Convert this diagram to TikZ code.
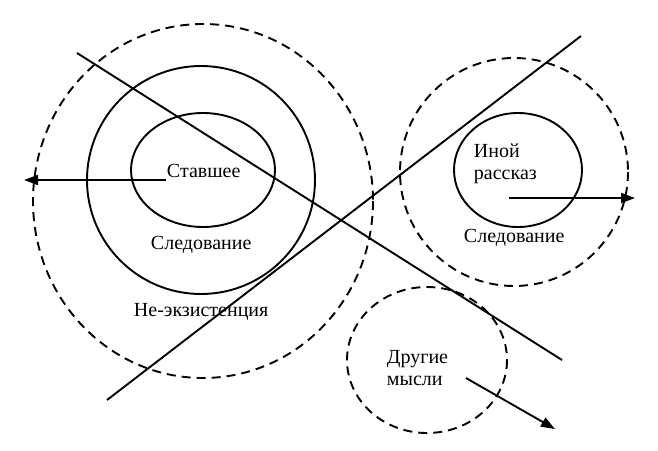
\documentclass[tikz,border=0pt]{standalone}
\usepackage{fontspec}
\setmainfont{Liberation Serif}
\usetikzlibrary{arrows.meta}
\tikzset{
  zone/.style={dash pattern=on 9pt off 6pt},
  flow/.style={-{Triangle[length=14pt,width=10pt]}},
  lbl/.style={font=\fontsize{20}{23}\selectfont, inner sep=0pt, anchor=base west}
}
\begin{document}
\begin{tikzpicture}[x=1pt,y=-1pt,line width=1.9pt]
        \useasboundingbox (0,0) rectangle (658,450);
        % left group
        \draw[zone] (203,201) ellipse (170 and 177);
        \draw (201,180) ellipse (114 and 114);
        \draw (203,170) ellipse (72 and 57);
        \node[lbl] (past) at (166,177) {Ставшее};
        \node[lbl] (follow) at (150,249) {Следование};
        \node[lbl] (nonex) at (133,316) {Не-экзистенция};
        \coordinate (pastout) at (24,180);
        \draw[flow] (past.west |- pastout) -- (pastout);

        % right group
        \draw[zone] (514,172) ellipse (114 and 114);
        \draw (518,170) ellipse (64 and 57);
        \node[lbl] (other) at (473,157) {Иной};
        \node[lbl] (story) at (473,179) {рассказ};
        \node[lbl] (follow2) at (463,242) {Следование};
        \coordinate (storyin) at (509,198);
        \coordinate (storyout) at (635,198);
        \draw[flow] (storyin) -- (storyout);

        % bottom group
        \draw[zone] (427,360) ellipse (80 and 73);
        \node[lbl] (others) at (386,363) {Другие};
        \node[lbl] (thoughts) at (386,385) {мысли};
        \coordinate (thoughtsin) at (466,378);
        \coordinate (thoughtsout) at (555,429);
        \draw[flow] (thoughtsin) -- (thoughtsout);

        % crossing lines
        \draw (77,53) -- (562,360);
        \draw (107,400) -- (581,36);
    \end{tikzpicture}
\end{document}
